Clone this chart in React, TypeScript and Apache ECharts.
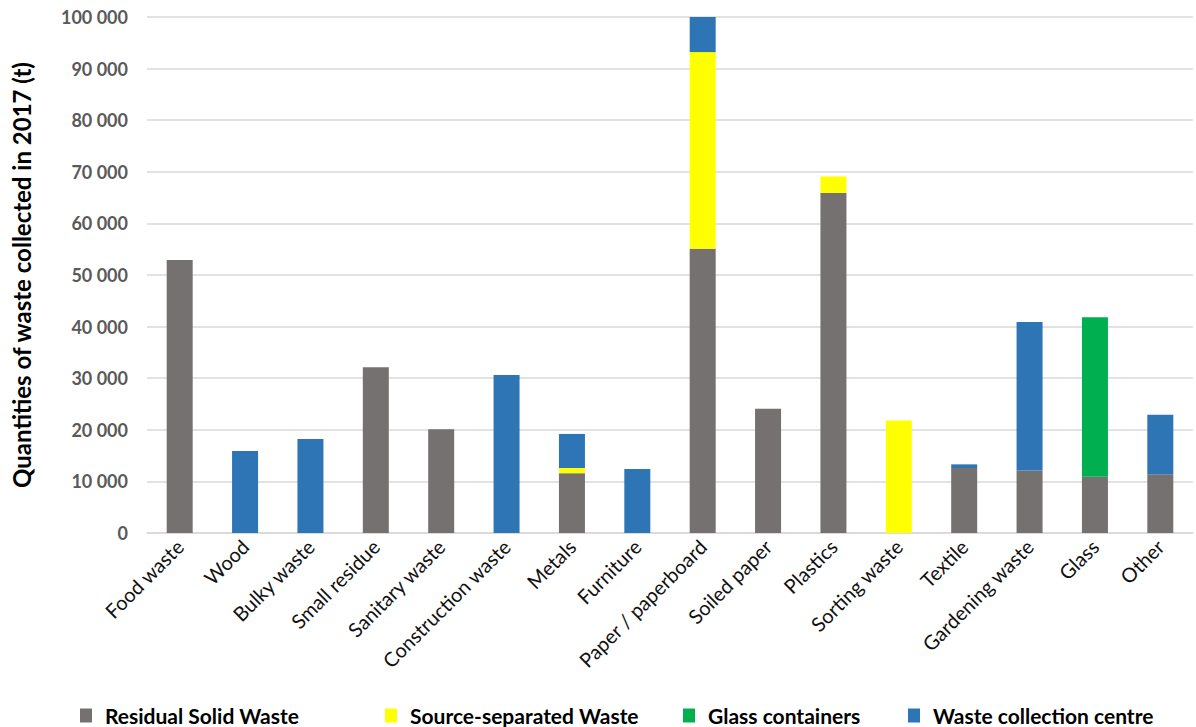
import React, { useEffect, useRef } from "react";
import * as echarts from "echarts";

const categories = [
  "Food waste", "Wood", "Bulky waste", "Small residue", "Sanitary waste",
  "Construction waste", "Metals", "Furniture", "Paper / paperboard", "Soiled paper",
  "Plastics", "Sorting waste", "Textile", "Gardening waste", "Glass", "Other",
];
const residualSolidWaste = [52900, null, null, 32100, 20100, null, 11600, null, 55100, 24100, 65900, null, 12600, 12100, 10900, 11400];
const sourceSeparatedWaste = [null, null, null, null, null, null, 1000, null, 38100, null, 3200, 21800, null, null, null, null];
const glassContainers = [null, null, null, null, null, null, null, null, null, null, null, null, null, null, 30900, null];
const wasteCollectionCentre = [null, 15900, 18200, null, null, 30600, 6600, 12400, 6800, null, null, null, 700, 28800, null, 11500];
const seriesNames = ["Residual Solid Waste", "Source-separated Waste", "Glass containers", "Waste collection centre"];
const seriesColors = ["#767171", "#FFFF00", "#00B050", "#2E75B6"];
const legendLefts = [75, 380, 678, 903];

const fmt = (v: number) => String(v).replace(/\B(?=(\d{3})+(?!\d))/g, " ");

export default function App() {
  const ref = useRef<HTMLDivElement>(null);
  useEffect(() => {
    if (!ref.current) return;
    const chart = echarts.init(ref.current, undefined, { renderer: "svg" });
    const data = [residualSolidWaste, sourceSeparatedWaste, glassContainers, wasteCollectionCentre];
    chart.setOption({
      animation: false,
      textStyle: { fontFamily: "Lato" },
      grid: { left: 147, right: 3, top: 17, bottom: 194, containLabel: false },
      legend: seriesNames.map((n, i) => ({
        data: [n],
        left: legendLefts[i],
        top: 700,
        itemWidth: 12,
        itemHeight: 14,
        itemGap: 10,
        icon: "rect",
        textStyle: {
          fontFamily: "Lato",
          fontWeight: "bold",
          fontSize: 21,
          color: "#000",
          padding: [0, 0, 0, 8],
        },
      })),
      xAxis: {
        type: "category",
        data: categories,
        axisLine: { lineStyle: { color: "#D9D9D9", width: 1.5 } },
        axisTick: { show: false },
        axisLabel: {
          interval: 0,
          rotate: 45,
          fontSize: 20,
          color: "#111",
          fontFamily: "Lato",
          margin: 10,
        },
      },
      yAxis: {
        type: "value",
        min: 0,
        max: 100000,
        interval: 10000,
        name: "Quantities of waste collected in 2017 (t)",
        nameLocation: "middle",
        nameGap: 114,
        nameTextStyle: { fontSize: 24, fontWeight: "bold", color: "#000", fontFamily: "Lato" },
        axisLine: { show: false },
        axisTick: { show: false },
        splitLine: { lineStyle: { color: "#D9D9D9", width: 1.5 } },
        axisLabel: {
          formatter: (v: number) => fmt(v),
          fontSize: 18,
          fontWeight: "bold",
          color: "#595959",
          margin: 19,
          fontFamily: "Lato",
        },
      },
      series: seriesNames.map((n, i) => ({
        name: n,
        type: "bar",
        stack: "total",
        barWidth: 26,
        data: data[i],
        itemStyle: { color: seriesColors[i] },
      })),
    });
    return () => chart.dispose();
  }, []);
  return <div ref={ref} style={{ width: 1196, height: 727, position: "absolute", left: 0, top: 0 }} />;
}
